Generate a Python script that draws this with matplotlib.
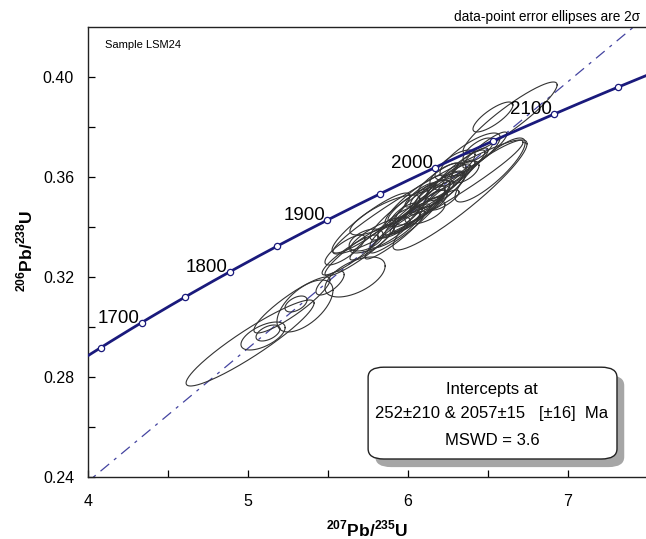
import matplotlib
matplotlib.use('Agg')
import matplotlib.pyplot as plt
import numpy as np
from matplotlib.patches import FancyBboxPatch

plt.rcParams['font.family'] = ['Liberation Sans', 'DejaVu Sans']
plt.rcParams['mathtext.fontset'] = 'custom'
plt.rcParams['mathtext.rm'] = 'Liberation Sans:bold'
plt.rcParams['mathtext.bf'] = 'Liberation Sans:bold'

# decay constants (per year)
lam238 = 1.55125e-10
lam235 = 9.8485e-10

# concordia age markers (Ma) and labelled ones
marker_ages = [1650, 1700, 1750, 1800, 1850, 1900, 1950, 2000, 2050, 2100, 2150]
label_ages = [1700, 1800, 1900, 2000, 2100]

# discordia intercepts (Ma)
lower_int = 252
upper_int = 2057

# data-point ellipses: 207Pb/235U, 206Pb/238U, 2-sigma errors, error correlation
pb207_u235 = [5.013, 5.094, 5.125, 5.275, 5.356, 5.300, 5.669, 5.513, 5.769, 5.738,
              5.606, 5.825, 6.125, 6.013, 6.075, 6.138, 6.200, 5.981, 6.169, 6.044,
              6.231, 6.106, 5.950, 6.513, 6.388, 6.294, 6.638, 6.531, 6.438, 6.250,
              6.356, 5.919, 5.856, 6.325, 5.919, 5.981, 6.063, 6.106, 6.150, 6.200,
              6.263, 6.025, 5.700, 5.638, 5.775, 6.325, 6.388, 6.481, 6.075, 6.188,
              6.000, 6.231]
pb206_u238 = [0.2936, 0.2964, 0.2976, 0.3088, 0.3084, 0.3092, 0.3200, 0.3176, 0.3416, 0.3348,
              0.3308, 0.3368, 0.3520, 0.3468, 0.3488, 0.3528, 0.3548, 0.3448, 0.3508, 0.3508,
              0.3568, 0.3460, 0.3420, 0.3628, 0.3688, 0.3648, 0.3836, 0.3840, 0.3708, 0.3608,
              0.3620, 0.3388, 0.3448, 0.3528, 0.3368, 0.3408, 0.3460, 0.3488, 0.3516, 0.3556,
              0.3588, 0.3436, 0.3308, 0.3288, 0.3336, 0.3628, 0.3660, 0.3708, 0.3528, 0.3596,
              0.3488, 0.3508]
err_x = [0.400, 0.138, 0.075, 0.238, 0.175, 0.069, 0.188, 0.088, 0.244, 0.106,
         0.125, 0.188, 0.594, 0.250, 0.156, 0.125, 0.156, 0.094, 0.075, 0.188,
         0.113, 0.125, 0.138, 0.219, 0.188, 0.125, 0.294, 0.125, 0.094, 0.113,
         0.088, 0.156, 0.219, 0.419, 0.188, 0.219, 0.175, 0.250, 0.138, 0.188,
         0.156, 0.113, 0.219, 0.175, 0.138, 0.156, 0.113, 0.138, 0.094, 0.125,
         0.125, 0.088]
err_y = [0.0172, 0.0056, 0.0032, 0.0112, 0.0104, 0.0032, 0.0080, 0.0048, 0.0120, 0.0044,
         0.0060, 0.0072, 0.0228, 0.0120, 0.0080, 0.0060, 0.0072, 0.0048, 0.0040, 0.0100,
         0.0056, 0.0048, 0.0064, 0.0128, 0.0088, 0.0060, 0.0144, 0.0060, 0.0048, 0.0048,
         0.0044, 0.0072, 0.0080, 0.0220, 0.0096, 0.0112, 0.0088, 0.0120, 0.0068, 0.0096,
         0.0080, 0.0056, 0.0104, 0.0080, 0.0068, 0.0080, 0.0056, 0.0072, 0.0048, 0.0060,
         0.0064, 0.0040]
rho = [0.93, 0.60, 0.50, 0.90, 0.60, 0.50, 0.55, 0.70, 0.90, 0.50,
       0.80, 0.80, 0.96, 0.90, 0.80, 0.70, 0.80, 0.70, 0.60, 0.90,
       0.80, 0.60, 0.80, 0.85, 0.80, 0.70, 0.92, 0.80, 0.70, 0.60,
       0.60, 0.85, 0.80, 0.93, 0.93, 0.94, 0.92, 0.95, 0.90, 0.93,
       0.90, 0.85, 0.92, 0.90, 0.90, 0.90, 0.85, 0.90, 0.85, 0.90,
       0.90, 0.80]


def ratios(age_ma):
    t = np.asarray(age_ma, dtype=float) * 1e6
    return np.exp(lam235 * t) - 1, np.exp(lam238 * t) - 1


fig = plt.figure(figsize=(6.46, 5.39), dpi=100)
ax = fig.add_axes([88 / 646, 62 / 539, 558 / 646, 450 / 539])
ax.set_xlim(4, 4 + 558 / 160)
ax.set_ylim(0.24, 0.42)

# discordia
dx, dy = ratios([lower_int, upper_int])
xs = np.linspace(0, 8, 50)
ax.plot(xs, dy[0] + (dy[1] - dy[0]) / (dx[1] - dx[0]) * (xs - dx[0]),
        color='#4444a0', lw=0.9, linestyle=(0, (9, 5, 2.5, 5)), zorder=1)

# error ellipses
th = np.linspace(0, 2 * np.pi, 200)
for cx, cy, sx, sy, r in zip(pb207_u235, pb206_u238, err_x, err_y, rho):
    ex = cx + sx * np.cos(th)
    ey = cy + sy * (r * np.cos(th) + np.sqrt(1 - r ** 2) * np.sin(th))
    ax.plot(ex, ey, color='#333333', lw=0.8, zorder=2)

# concordia
cx_, cy_ = ratios(np.linspace(1500, 2400, 300))
ax.plot(cx_, cy_, color='#1a1a7c', lw=2.0, zorder=3)
mx, my = ratios(marker_ages)
ax.plot(mx, my, 'o', ms=4.5, mfc='white', mec='#1a1a7c', mew=0.9, zorder=4)
lx, ly = ratios(label_ages)
for a, x, y in zip(label_ages, lx, ly):
    ax.annotate(str(a), (x, y), xytext=(-1.5, -3), textcoords='offset points',
                ha='right', va='bottom', fontsize=13.5, zorder=5)

# intercept box with shadow
asp = 450 / 558
shadow = FancyBboxPatch((0.502 + 0.013, 0.040 - 0.018), 0.446, 0.204,
                        boxstyle='round,pad=0,rounding_size=0.028', mutation_aspect=asp,
                        transform=ax.transAxes, fc='#a6a6a6', ec='none', zorder=6)
box = FancyBboxPatch((0.502, 0.040), 0.446, 0.204,
                     boxstyle='round,pad=0,rounding_size=0.028', mutation_aspect=asp,
                     transform=ax.transAxes, fc='white', ec='#222222', lw=1.0, zorder=7)
ax.add_patch(shadow)
ax.add_patch(box)
ax.text(0.724, 0.194, 'Intercepts at', transform=ax.transAxes, ha='center', va='center',
        fontsize=12, zorder=8)
ax.text(0.724, 0.141, '252\u00b1210 & 2057\u00b115   [\u00b116]  Ma', transform=ax.transAxes,
        ha='center', va='center', fontsize=12, zorder=8)
ax.text(0.724, 0.081, 'MSWD = 3.6', transform=ax.transAxes, ha='center', va='center',
        fontsize=12, zorder=8)

ax.text(0.03, 0.96, 'Sample LSM24', transform=ax.transAxes, ha='left', va='center',
        fontsize=8)
fig.text(640 / 646, 1 - 17 / 539, 'data-point error ellipses are 2\u03c3', ha='right',
         va='center', fontsize=9.8)

# axes styling
ax.spines['right'].set_visible(False)
for s in ['left', 'bottom', 'top']:
    ax.spines[s].set_linewidth(1.0)
    ax.spines[s].set_color('#222222')
ax.set_xticks([4, 5, 6, 7])
ax.set_xticks([4.5, 5.5, 6.5], minor=True)
ax.set_yticks([0.24, 0.28, 0.32, 0.36, 0.40])
ax.set_yticks([0.26, 0.30, 0.34, 0.38], minor=True)
ax.set_yticklabels(['0.24', '0.28', '0.32', '0.36', '0.40'])
ax.tick_params(which='both', direction='in', length=5, width=0.9, labelsize=11.5,
               top=False, right=False)
ax.tick_params(axis='y', pad=10)
ax.tick_params(axis='x', pad=12)

ax.set_xlabel('$^{207}$Pb/$^{235}$U', fontsize=12.5, fontweight='bold')
ax.xaxis.set_label_coords(0.5, -0.092)
ax.set_ylabel('$^{206}$Pb/$^{238}$U', fontsize=12.5, fontweight='bold')
ax.yaxis.set_label_coords(-0.094, 0.502)

fig.savefig('out.png', dpi=100)
